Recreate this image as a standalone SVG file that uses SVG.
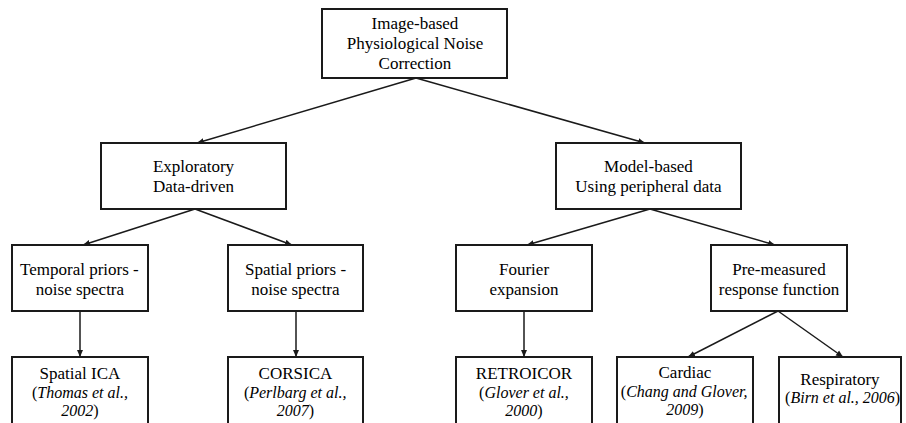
<svg xmlns="http://www.w3.org/2000/svg" width="906" height="423" viewBox="0 0 906 423">
<defs>
<marker id="ah" markerUnits="userSpaceOnUse" markerWidth="8" markerHeight="8" viewBox="0 0 8 8" refX="7" refY="4" orient="auto">
<path d="M0,1 L7,4 L0,7 Z" fill="#1a1a1a"/>
</marker>
</defs>
<rect width="906" height="423" fill="#fff"/>
<g id="connectors" stroke="#1a1a1a" stroke-width="1.5" fill="none">
<line x1="416" y1="78" x2="197" y2="143" marker-end="url(#ah)"/>
<line x1="416" y1="78" x2="645" y2="143" marker-end="url(#ah)"/>
<line x1="195" y1="209" x2="83" y2="245" marker-end="url(#ah)"/>
<line x1="195" y1="209" x2="292" y2="245" marker-end="url(#ah)"/>
<line x1="650" y1="209" x2="527" y2="245" marker-end="url(#ah)"/>
<line x1="650" y1="209" x2="775" y2="245" marker-end="url(#ah)"/>
<line x1="80" y1="311" x2="80" y2="357" marker-end="url(#ah)"/>
<line x1="296" y1="311" x2="296" y2="357" marker-end="url(#ah)"/>
<line x1="524" y1="311" x2="524" y2="357" marker-end="url(#ah)"/>
<line x1="778" y1="311" x2="688" y2="357" marker-end="url(#ah)"/>
<line x1="778" y1="311" x2="843" y2="357" marker-end="url(#ah)"/>
</g>
<g id="root">
<rect fill="#fff" stroke="#1a1a1a" stroke-width="2" x="322" y="9" width="185" height="69"/>
<text x="371.5" y="29" font-family="Liberation Serif" font-size="17">Image-based</text>
<text x="346.8" y="49" font-family="Liberation Serif" font-size="17">Physiological Noise</text>
<text x="378.6" y="69" font-family="Liberation Serif" font-size="17">Correction</text>
</g>
<g id="exploratory">
<rect fill="#fff" stroke="#1a1a1a" stroke-width="2" x="101" y="143" width="185" height="66"/>
<text x="152.9" y="172" font-family="Liberation Serif" font-size="17">Exploratory</text>
<text x="152.9" y="192" font-family="Liberation Serif" font-size="17">Data-driven</text>
</g>
<g id="model">
<rect fill="#fff" stroke="#1a1a1a" stroke-width="2" x="556" y="143" width="185" height="66"/>
<text x="604.1" y="172" font-family="Liberation Serif" font-size="17">Model-based</text>
<text x="575.3" y="192" font-family="Liberation Serif" font-size="17">Using peripheral data</text>
</g>
<g id="temporal">
<rect fill="#fff" stroke="#1a1a1a" stroke-width="2" x="12" y="245" width="136" height="66"/>
<text x="20" y="275" font-family="Liberation Serif" font-size="17">Temporal priors -</text>
<text x="35.8" y="295" font-family="Liberation Serif" font-size="17">noise spectra</text>
</g>
<g id="spatial">
<rect fill="#fff" stroke="#1a1a1a" stroke-width="2" x="228" y="245" width="135" height="66"/>
<text x="245" y="275" font-family="Liberation Serif" font-size="17">Spatial priors -</text>
<text x="251.3" y="295" font-family="Liberation Serif" font-size="17">noise spectra</text>
</g>
<g id="fourier">
<rect fill="#fff" stroke="#1a1a1a" stroke-width="2" x="456" y="245" width="136" height="66"/>
<text x="499" y="275" font-family="Liberation Serif" font-size="17">Fourier</text>
<text x="489.5" y="295" font-family="Liberation Serif" font-size="17">expansion</text>
</g>
<g id="premeasured">
<rect fill="#fff" stroke="#1a1a1a" stroke-width="2" x="711" y="245" width="136" height="66"/>
<text x="732.2" y="275" font-family="Liberation Serif" font-size="17">Pre-measured</text>
<text x="718.8" y="295" font-family="Liberation Serif" font-size="17">response function</text>
</g>
<g id="spatialica">
<rect fill="#fff" stroke="#1a1a1a" stroke-width="2" x="12" y="357" width="136" height="80"/>
<text x="39.6" y="379" font-family="Liberation Serif" font-size="17">Spatial ICA</text>
<text x="32" y="398" font-family="Liberation Serif" font-size="16">(<tspan font-style="italic">Thomas et al.,</tspan></text>
<text x="61.3" y="416" font-family="Liberation Serif" font-size="16"><tspan font-style="italic">2002</tspan>)</text>
</g>
<g id="corsica">
<rect fill="#fff" stroke="#1a1a1a" stroke-width="2" x="228" y="357" width="135" height="80"/>
<text x="258.6" y="379" font-family="Liberation Serif" font-size="17">CORSICA</text>
<text x="243.9" y="398" font-family="Liberation Serif" font-size="16">(<tspan font-style="italic">Perlbarg et al.,</tspan></text>
<text x="276.8" y="416" font-family="Liberation Serif" font-size="16"><tspan font-style="italic">2007</tspan>)</text>
</g>
<g id="retroicor">
<rect fill="#fff" stroke="#1a1a1a" stroke-width="2" x="456" y="357" width="136" height="80"/>
<text x="475.8" y="379" font-family="Liberation Serif" font-size="17">RETROICOR</text>
<text x="479.1" y="398" font-family="Liberation Serif" font-size="16">(<tspan font-style="italic">Glover et al.,</tspan></text>
<text x="505.3" y="416" font-family="Liberation Serif" font-size="16"><tspan font-style="italic">2000</tspan>)</text>
</g>
<g id="cardiac">
<rect fill="#fff" stroke="#1a1a1a" stroke-width="2" x="617" y="357" width="136" height="80"/>
<text x="658.5" y="378" font-family="Liberation Serif" font-size="17">Cardiac</text>
<text x="620.8" y="397" font-family="Liberation Serif" font-size="16">(<tspan font-style="italic">Chang and Glover,</tspan></text>
<text x="666.3" y="415" font-family="Liberation Serif" font-size="16"><tspan font-style="italic">2009</tspan>)</text>
</g>
<g id="respiratory">
<rect fill="#fff" stroke="#1a1a1a" stroke-width="2" x="779" y="357" width="122" height="80"/>
<text x="800.3" y="385" font-family="Liberation Serif" font-size="17">Respiratory</text>
<text x="785.1" y="403" font-family="Liberation Serif" font-size="16">(<tspan font-style="italic">Birn et al., 2006</tspan>)</text>
</g>
</svg>
